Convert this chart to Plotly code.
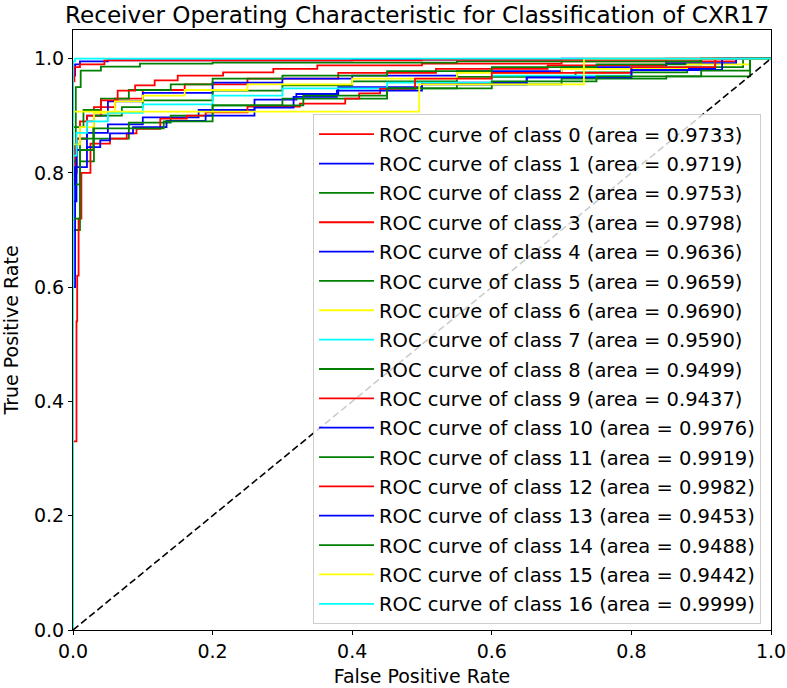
import plotly.graph_objects as go

title = "Receiver Operating Characteristic for Classification of CXR17"
x_label = "False Positive Rate"
y_label = "True Positive Rate"
tick_vals = [0.0, 0.2, 0.4, 0.6, 0.8, 1.0]
tick_text = ["0.0", "0.2", "0.4", "0.6", "0.8", "1.0"]

class_names = [str(i) for i in range(17)]
auc_values = [0.9733, 0.9719, 0.9753, 0.9798, 0.9636, 0.9659, 0.9690, 0.9590, 0.9499,
              0.9437, 0.9976, 0.9919, 0.9982, 0.9453, 0.9488, 0.9442, 0.9999]
colors = ["red", "blue", "green", "red", "blue", "green", "yellow", "cyan", "green",
          "red", "blue", "green", "red", "blue", "green", "yellow", "cyan"]

fpr_0 = [0, 0, 0.003, 0.01, 0.03, 0.06, 0.1, 0.16, 0.25, 0.38, 0.52, 0.68, 0.85, 0.95, 1.0]
tpr_0 = [0, 0.78, 0.85, 0.89, 0.915, 0.93, 0.945, 0.955, 0.965, 0.975, 0.982, 0.988, 0.995, 1.0, 1.0]

fpr_1 = [0, 0, 0.005, 0.02, 0.05, 0.1, 0.2, 0.3, 0.4, 0.55, 0.7, 0.85, 0.95, 1.0]
tpr_1 = [0, 0.8, 0.86, 0.9, 0.925, 0.94, 0.958, 0.965, 0.97, 0.978, 0.985, 0.992, 1.0, 1.0]

fpr_2 = [0, 0, 0.004, 0.015, 0.04, 0.08, 0.14, 0.2, 0.3, 0.45, 0.6, 0.75, 0.9, 1.0]
tpr_2 = [0, 0.82, 0.88, 0.91, 0.93, 0.945, 0.955, 0.965, 0.97, 0.978, 0.985, 0.99, 1.0, 1.0]

fpr_3 = [0, 0, 0.005, 0.02, 0.04, 0.064, 0.089, 0.117, 0.15, 0.215, 0.287, 0.35, 0.5, 0.7, 0.9, 1.0]
tpr_3 = [0, 0.8, 0.86, 0.9, 0.927, 0.944, 0.953, 0.962, 0.97, 0.976, 0.982, 0.988, 0.991, 0.995, 1.0, 1.0]

fpr_4 = [0, 0, 0.005, 0.02, 0.05, 0.1, 0.18, 0.26, 0.32, 0.38, 0.5, 0.65, 0.8, 0.92, 1.0]
tpr_4 = [0, 0.75, 0.84, 0.87, 0.885, 0.897, 0.91, 0.928, 0.938, 0.95, 0.958, 0.967, 0.982, 1.0, 1.0]

fpr_5 = [0, 0, 0.01, 0.03, 0.07, 0.1, 0.2, 0.3, 0.4, 0.55, 0.72, 0.88, 0.96, 1.0]
tpr_5 = [0, 0.78, 0.86, 0.9, 0.915, 0.927, 0.944, 0.953, 0.96, 0.968, 0.976, 0.985, 1.0, 1.0]

fpr_6 = [0, 0, 0.01, 0.03, 0.06, 0.1, 0.16, 0.25, 0.4, 0.55, 0.7, 0.88, 0.97, 1.0]
tpr_6 = [0, 0.85, 0.88, 0.905, 0.925, 0.935, 0.945, 0.955, 0.965, 0.975, 0.982, 0.99, 1.0, 1.0]

fpr_7 = [0, 0, 0.005, 0.02, 0.05, 0.1, 0.2, 0.3, 0.45, 0.6, 0.8, 0.92, 1.0]
tpr_7 = [0, 0.83, 0.87, 0.89, 0.905, 0.92, 0.935, 0.948, 0.958, 0.97, 0.985, 1.0, 1.0]

fpr_8 = [0, 0, 0.01, 0.03, 0.08, 0.14, 0.2, 0.3, 0.45, 0.55, 0.7, 0.85, 0.97, 1.0]
tpr_8 = [0, 0.7, 0.82, 0.86, 0.888, 0.9, 0.918, 0.93, 0.948, 0.955, 0.965, 0.969, 1.0, 1.0]

fpr_9 = [0, 0, 0.005, 0.006, 0.008, 0.012, 0.025, 0.053, 0.077, 0.091, 0.125, 0.163, 0.19,
         0.25, 0.325, 0.39, 0.41, 0.44, 0.49, 0.6, 0.8, 0.92, 1.0]
tpr_9 = [0, 0.33, 0.54, 0.62, 0.72, 0.8, 0.851, 0.86, 0.869, 0.877, 0.895, 0.9, 0.906,
         0.916, 0.921, 0.93, 0.939, 0.947, 0.965, 0.975, 0.985, 1.0, 1.0]

fpr_10 = [0, 0, 0.003, 0.01, 0.05, 0.4, 0.7, 1.0]
tpr_10 = [0, 0.97, 0.99, 0.995, 0.997, 0.998, 1.0, 1.0]

fpr_11 = [0, 0, 0.004, 0.011, 0.04, 0.096, 0.2, 0.55, 0.9, 1.0]
tpr_11 = [0, 0.88, 0.95, 0.979, 0.986, 0.991, 0.993, 0.995, 1.0, 1.0]

fpr_12 = [0, 0, 0.002, 0.01, 0.045, 0.5, 0.85, 1.0]
tpr_12 = [0, 0.96, 0.985, 0.99, 0.997, 0.998, 1.0, 1.0]

fpr_13 = [0, 0, 0.003, 0.02, 0.039, 0.053, 0.086, 0.134, 0.19, 0.26, 0.316, 0.378, 0.5,
          0.65, 0.8, 0.93, 1.0]
tpr_13 = [0, 0.6, 0.81, 0.845, 0.857, 0.869, 0.88, 0.891, 0.9, 0.914, 0.933, 0.944, 0.955,
          0.967, 0.98, 1.0, 1.0]

fpr_14 = [0, 0, 0.01, 0.029, 0.13, 0.2, 0.33, 0.45, 0.6, 0.75, 0.9, 0.97, 1.0]
tpr_14 = [0, 0.72, 0.84, 0.878, 0.89, 0.918, 0.935, 0.948, 0.96, 0.969, 0.979, 1.0, 1.0]

fpr_15 = [0, 0, 0.496, 0.732, 1.0]
tpr_15 = [0, 0.907, 0.955, 1.0, 1.0]

fpr_16 = [0, 0, 0.003, 1.0]
tpr_16 = [0, 0.995, 1.0, 1.0]

fprs = [fpr_0, fpr_1, fpr_2, fpr_3, fpr_4, fpr_5, fpr_6, fpr_7, fpr_8, fpr_9,
        fpr_10, fpr_11, fpr_12, fpr_13, fpr_14, fpr_15, fpr_16]
tprs = [tpr_0, tpr_1, tpr_2, tpr_3, tpr_4, tpr_5, tpr_6, tpr_7, tpr_8, tpr_9,
        tpr_10, tpr_11, tpr_12, tpr_13, tpr_14, tpr_15, tpr_16]

diag_x = [0, 1]
diag_y = [0, 1]

FONT = "DejaVu Sans"
FS = 19

fig = go.Figure()
for i in range(17):
    fig.add_trace(go.Scatter(
        x=fprs[i], y=tprs[i], mode="lines", line_shape="hv",
        line=dict(color=colors[i], width=1.8),
        name=f"ROC curve of class {class_names[i]} (area = {auc_values[i]:.4f})",
        legendgroup=f"g{i}",
    ))
fig.add_trace(go.Scatter(
    x=diag_x, y=diag_y, mode="lines",
    line=dict(color="black", width=1.6, dash="7px,3.5px"),
    showlegend=False, hoverinfo="skip",
))

axis_common = dict(
    showgrid=False, zeroline=False, showline=True, linecolor="black", linewidth=1,
    mirror=True, ticks="outside", ticklen=4, tickcolor="black", tickwidth=1,
    tickfont=dict(family=FONT, size=FS, color="black"), automargin=False,
)

fig.update_layout(
    width=787, height=688,
    margin=dict(l=73, r=16, t=30, b=58, autoexpand=False),
    paper_bgcolor="white", plot_bgcolor="white",
    title=dict(text=title, x=0.53, xanchor="center", y=0.979, yanchor="middle",
               font=dict(family=FONT, size=23.1, color="black")),
    xaxis=dict(range=[0, 1], tickvals=tick_vals, ticktext=tick_text,
               title=dict(text=x_label, font=dict(family=FONT, size=FS, color="black"), standoff=8),
               **axis_common),
    yaxis=dict(range=[0, 1.05], tickvals=tick_vals, ticktext=tick_text,
               title=dict(text=y_label, font=dict(family=FONT, size=FS, color="black"), standoff=12),
               **axis_common),
    legend=dict(
        x=0.9857, xanchor="right", y=0.01, yanchor="bottom",
        bgcolor="rgba(255,255,255,0.8)", bordercolor="rgba(200,200,200,0.9)", borderwidth=1,
        font=dict(family=FONT, size=19.5, color="black"),
        traceorder="grouped", tracegroupgap=1, itemwidth=55,
    ),
    showlegend=True,
)

fig.write_html("out.html", config={"displayModeBar": False},
               post_script="document.body.style.margin='0';")
